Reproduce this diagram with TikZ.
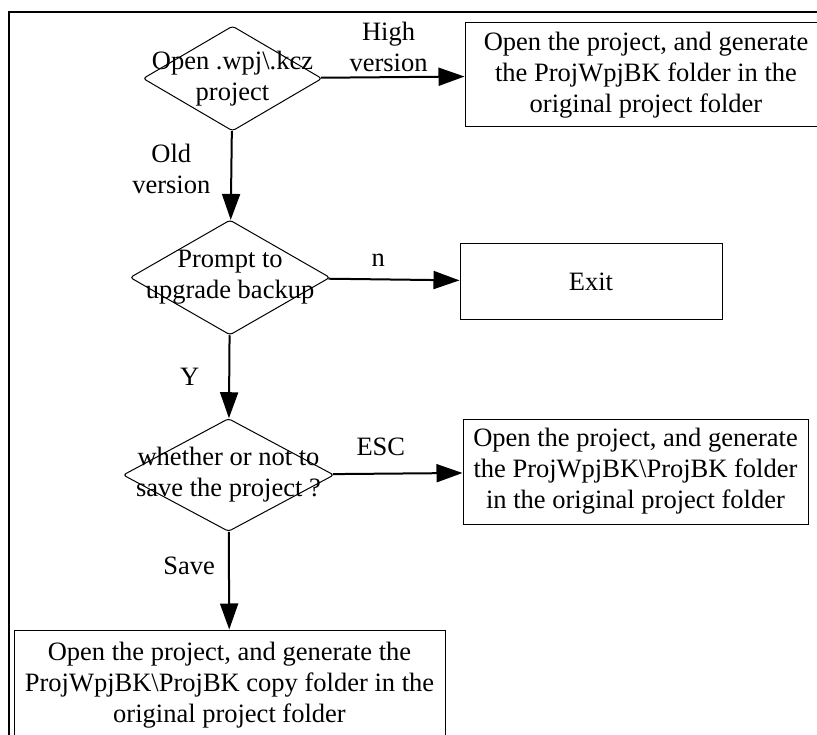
\documentclass[tikz,border=0pt]{standalone}
\usepackage{fontspec}
\setmainfont{Liberation Serif}
\usetikzlibrary{positioning,shapes,arrows.meta}
\tikzset{decision/.style={diamond,draw,line width=1pt,inner sep=0pt,
rounded corners=3pt},
process/.style={rectangle,draw,line width=1pt,align=center,inner sep=0pt},
flow/.style={draw,line width=2pt,-{Triangle[length=26pt,width=18pt]}},
lbl/.style={align=center,inner sep=2pt}}

\begin{document}
\begin{tikzpicture}[x=1pt,y=-1pt,font=\fontsize{26.5}{31}\selectfont]
    \useasboundingbox (0,0) rectangle (817,735);
    \clip (0,0) rectangle (817,735);
    \draw[line width=1.5pt] (9,740) -- (9,12) -- (820,12);

    \node[decision,minimum width=179pt,minimum height=105pt] (1) at (232.5,78.5) {};
    \node[decision,minimum width=200pt,minimum height=115pt] (2) at (230,277.5) {};
    \node[decision,minimum width=211pt,minimum height=113pt] (3) at (228.5,475) {};
    \node[process,minimum width=362pt,minimum height=104pt] (4) at (646,75)
        {Open the project, and generate\\the ProjWpjBK folder in the\\original project folder};
    \node[process,minimum width=262pt,minimum height=76pt] (5) at (591,282) {Exit};
    \node[process,minimum width=345pt,minimum height=105pt] (6) at (635.5,471.5)
        {Open the project, and generate\\the ProjWpjBK\textbackslash ProjBK folder\\in the original project folder};
    \node[process,minimum width=431pt,minimum height=110pt] (7) at (229.5,685)
        {Open the project, and generate the\\ProjWpjBK\textbackslash ProjBK copy folder in the\\original project folder};

    \node[lbl] (11) at (1) {Open .wpj\textbackslash.kcz\\project};
    \node[lbl] (22) at (2) {Prompt to\\upgrade backup};
    \node[lbl] (33) at (3) {whether or not to\\save the project ?};

    \path[flow] (1) -- node[lbl,above=2pt,pos=0.47] (14) {High\\version} (4);
    \path[flow] (1) -- node[lbl,left=18pt,pos=0.43] (12) {Old\\version} (2);
    \path[flow] (2) -- node[lbl,above=10pt,pos=0.38] (25) {n} (5);
    \path[flow] (2) -- node[lbl,left=27pt] (23) {Y} (3);
    \path[flow] (3) -- node[lbl,above=15pt,pos=0.37] (36) {ESC} (6);
    \path[flow] (3) -- node[lbl,left=11pt,pos=0.35] (37) {Save} (7);
\end{tikzpicture}
\end{document}
